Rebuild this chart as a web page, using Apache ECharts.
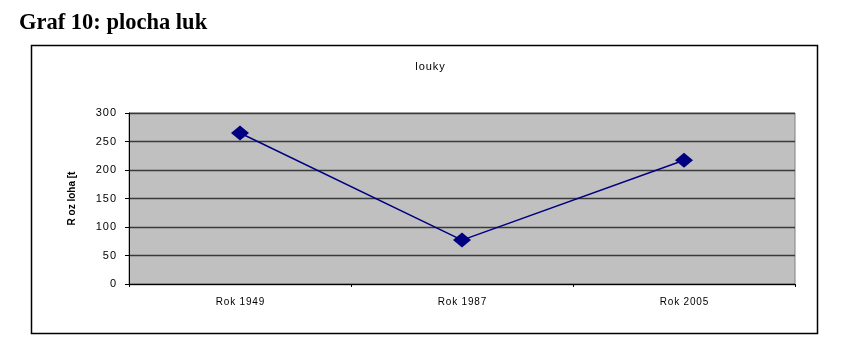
<!DOCTYPE html>
<html><head><meta charset="utf-8">
<script src="https://cdn.jsdelivr.net/npm/echarts@6/dist/echarts.min.js"></script>
<style>html,body{margin:0;padding:0;background:#fff}#c{width:867px;height:358px}</style>
</head><body><div id="c"></div>
<script>
const categories = ['Rok 1949', 'Rok 1987', 'Rok 2005'];
const values = [265, 77, 217];
const yTicks = [0, 50, 100, 150, 200, 250, 300];

const spaced = s => String(s).split('').join('\u200A');
const chart = echarts.init(document.getElementById('c'), null, {renderer: 'canvas'});
chart.setOption({
  animation: false,
  backgroundColor: '#ffffff',
  title: {
    text: spaced('louky'), left: 425, top: 56, textAlign: 'center',
    textStyle: {fontFamily: 'Arial, Liberation Sans', fontSize: 11, fontWeight: 'normal', color: '#000'}
  },
  graphic: [
    {type: 'text', left: 19, top: 12, style: {text: 'Graf 10: plocha luk', font: 'bold 22.5px "Liberation Serif", "Times New Roman", serif', fill: '#000'}},
    {type: 'rect', shape: {x: 31.5, y: 45.5, width: 786, height: 288}, style: {fill: 'none', stroke: '#000', lineWidth: 1.5}, z: -1}
  ],
  grid: {left: 129, right: 72, top: 113, bottom: 74, show: true, backgroundColor: '#c0c0c0', borderColor: '#808080', borderWidth: 1},
  xAxis: {
    type: 'category', data: categories, boundaryGap: true,
    axisLine: {lineStyle: {color: '#000', width: 1}},
    axisTick: {show: true, length: 3, lineStyle: {color: '#000'}},
    axisLabel: {margin: 13, fontFamily: 'Arial, Liberation Sans', fontSize: 10, color: '#000', formatter: spaced}
  },
  yAxis: {
    type: 'value', min: 0, max: 300, interval: 50,
    name: 'R oz loha [t', nameLocation: 'middle', nameGap: 52, nameRotate: 90,
    nameTextStyle: {fontFamily: 'Arial, Liberation Sans', fontSize: 10, fontWeight: 'bold', color: '#000'},
    axisLine: {show: true, lineStyle: {color: '#000', width: 1}},
    axisTick: {show: true, length: 4, lineStyle: {color: '#000'}},
    axisLabel: {margin: 13, fontFamily: 'Arial, Liberation Sans', fontSize: 11, color: '#000', formatter: spaced},
    splitLine: {show: true, lineStyle: {color: '#3a3a3a', width: 1.3}}
  },
  series: [{
    type: 'line', data: values,
    symbol: 'diamond', symbolSize: [18, 15],
    lineStyle: {color: '#000080', width: 1.5},
    itemStyle: {color: '#000080'}
  }]
});
</script></body></html>
